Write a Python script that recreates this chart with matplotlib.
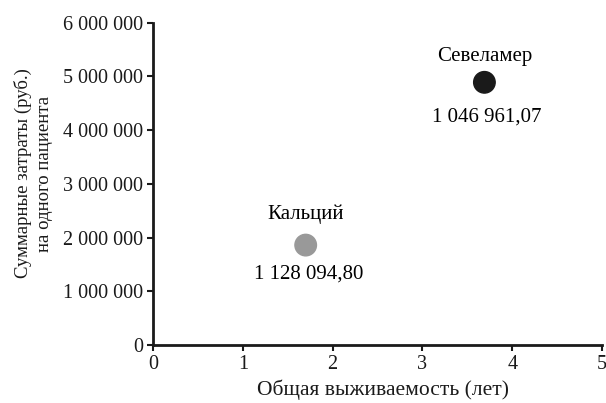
import matplotlib.pyplot as plt

plt.rcParams['font.family'] = ['Liberation Serif', 'DejaVu Serif']

# Data
drugs = ['Севеламер', 'Кальций']
survival = [3.69, 1.70]                # years
total_cost = [4890000, 1860000]        # rub per patient
icer_labels = ['1 046 961,07', '1 128 094,80']
colors = ['#1a1a1a', '#999999']

x_ticks = [0, 1, 2, 3, 4, 5]
y_ticks = [0, 1000000, 2000000, 3000000, 4000000, 5000000, 6000000]
y_tick_labels = ['0', '1 000 000', '2 000 000', '3 000 000', '4 000 000', '5 000 000', '6 000 000']

# label offsets (points) above / below each marker
name_off = [18.5, 22.0]
val_off = [-25.0, -21.0]

fig = plt.figure(figsize=(6.06, 4.03), dpi=100)
ax = fig.add_axes([0.2525, 0.1439, 0.741, 0.7998])

ax.scatter(survival, total_cost, s=240, c=colors, zorder=3)
for i in range(len(drugs)):
    ax.annotate(drugs[i], (survival[i], total_cost[i]), xytext=(0, name_off[i]),
                textcoords='offset points', ha='center', va='center', fontsize=15)
    ax.annotate(icer_labels[i], (survival[i], total_cost[i]), xytext=(2, val_off[i]),
                textcoords='offset points', ha='center', va='center', fontsize=15)

ax.set_xlim(0, 5)
ax.set_ylim(0, 6000000)
ax.set_xticks(x_ticks)
ax.set_yticks(y_ticks)
ax.set_yticklabels(y_tick_labels)
ax.tick_params(labelsize=14.5, width=1.5, length=4, pad=3, color='#1a1a1a', labelcolor='#1a1a1a')

for side in ['top', 'right']:
    ax.spines[side].set_visible(False)
for side in ['left', 'bottom']:
    ax.spines[side].set_linewidth(2)
    ax.spines[side].set_color('#1a1a1a')

ax.set_xlabel('Общая выживаемость (лет)', fontsize=15.5, color='#1a1a1a')
ax.xaxis.set_label_coords(0.512, -0.108)
ax.set_ylabel('Суммарные затраты (руб.)\nна одного пациента', fontsize=13.5,
              color='#1a1a1a', linespacing=1.3)
ax.yaxis.set_label_coords(-0.223, 0.532)

fig.savefig('out.png', dpi=100)
